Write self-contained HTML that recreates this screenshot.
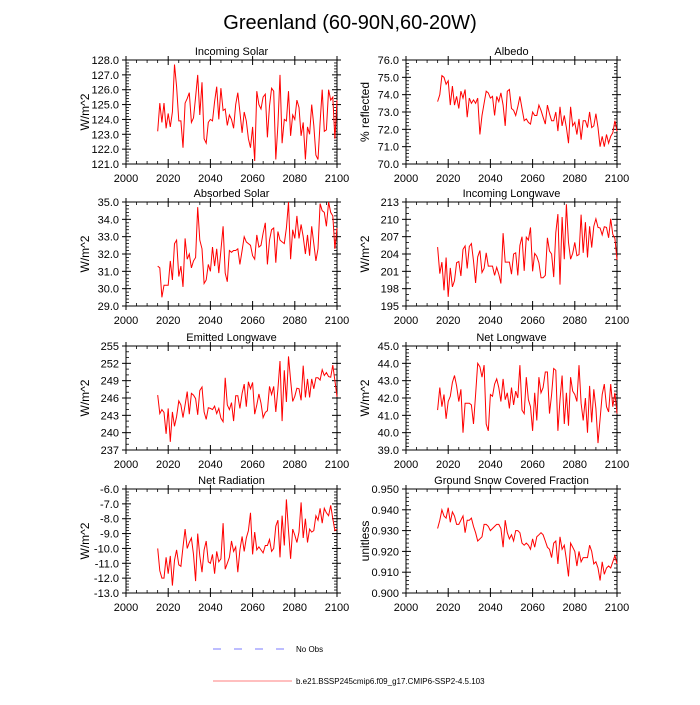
<!DOCTYPE html>
<html><head><meta charset="utf-8"><style>
body{margin:0;background:#fff;}
svg text{font-family:"Liberation Sans",sans-serif;fill:#000;}
</style></head><body>
<svg id="chart" width="700" height="700" xmlns="http://www.w3.org/2000/svg">
<text x="350" y="29" font-size="20" text-anchor="middle">Greenland (60-90N,60-20W)</text>
<line x1="213" y1="649" x2="288" y2="649" stroke="#7b7bff" stroke-width="1" stroke-dasharray="8,13"/>
<text x="296" y="652" font-size="8">No Obs</text>
<line x1="213" y1="681" x2="292" y2="681" stroke="#ff7f7f" stroke-width="1"/>
<text x="296" y="684" font-size="8">b.e21.BSSP245cmip6.f09_g17.CMIP6-SSP2-4.5.103</text>
<g id="panels"></g>
</svg>
<script>
const years0 = 2015;
const incomingSolar = [123.2,125.1,123.8,125.1,123.4,124.4,123.5,124.5,127.7,126.2,
123.9,123.9,122.1,125.1,125.4,125.8,123.8,124.1,125.5,127.0,
124.3,126.5,122.7,122.4,123.8,124.0,123.9,125.2,126.2,124.0,
126.1,124.6,124.7,123.6,124.3,124.0,123.4,125.0,125.8,124.5,
123.1,124.5,123.9,122.7,122.1,123.5,121.2,125.9,125.0,124.7,
125.5,125.7,122.8,124.9,126.1,125.9,121.3,123.6,127.0,122.4,
124.0,123.9,125.9,122.9,124.3,124.0,125.3,124.8,122.9,123.8,
121.3,123.5,123.0,125.0,123.6,121.6,121.3,123.8,126.0,123.2,
123.3,126.0,125.3,125.5,122.7,125.3];
const albedo = [73.6,74.0,75.1,75.0,74.6,74.8,73.4,74.5,73.4,73.9,
73.2,74.2,73.8,74.3,72.7,73.8,73.5,73.7,73.5,73.8,
71.7,72.8,73.5,74.2,74.1,73.8,73.9,72.8,73.9,73.6,
74.1,73.4,72.2,74.2,74.3,73.2,73.1,72.8,73.3,73.9,
73.2,72.5,72.6,72.4,72.3,73.0,72.8,72.8,73.4,73.1,
72.7,72.3,73.4,72.9,72.5,72.5,73.0,71.9,73.3,72.2,
72.8,72.1,71.2,73.3,72.2,72.4,71.7,72.6,71.4,72.5,
72.5,72.1,73.0,72.1,72.2,72.9,72.1,71.0,71.6,71.0,
71.7,71.2,71.6,71.8,72.5,71.9];
const absorbedSolar = [31.3,31.2,29.5,30.2,30.2,30.2,31.6,30.5,32.6,32.8,
30.7,31.3,30.1,32.9,31.7,32.0,31.2,31.6,31.8,34.7,
32.8,32.3,30.3,30.5,31.4,31.0,32.4,31.3,32.3,30.9,
32.2,33.6,30.9,30.4,32.2,32.1,32.2,32.2,32.3,31.4,
32.2,33.0,32.7,32.6,32.5,31.9,31.7,33.1,32.4,32.5,
33.2,33.8,31.4,32.8,33.4,33.5,31.5,33.3,32.8,32.7,
32.6,33.5,35.0,31.7,33.4,32.9,34.2,32.9,33.7,33.0,
32.0,33.1,31.9,33.6,32.6,31.6,32.3,34.9,34.5,34.4,
33.6,35.0,34.4,34.2,32.3,33.5];
const incomingLW = [205.2,200.6,202.6,197.7,203.4,196.6,201.6,198.3,199.4,202.5,
202.7,200.2,204.8,205.4,201.5,205.3,205.8,202.8,199.0,203.5,
204.6,200.8,201.5,204.2,201.9,201.9,201.9,200.3,201.7,200.5,
198.9,207.6,202.6,202.6,202.6,200.5,204.0,204.2,200.3,205.5,
207.0,201.1,206.9,206.4,208.6,201.0,204.1,203.6,202.5,199.9,
199.9,200.3,206.8,204.5,204.0,200.0,207.7,210.9,198.7,210.4,
203.1,212.6,206.0,203.1,204.1,206.0,203.7,203.9,210.8,204.2,
209.5,203.4,208.8,205.1,208.8,210.1,208.6,208.5,207.3,208.7,
208.6,206.8,210.1,207.4,206.7,203.0];
const emittedLW = [246.5,243.3,244.0,243.5,239.8,244.2,238.4,243.6,241.1,242.8,
245.5,244.8,242.6,244.8,247.1,243.2,246.8,246.5,245.9,243.1,
247.3,247.9,243.6,242.3,244.3,244.2,244.0,244.6,243.3,244.2,
242.5,241.9,249.5,244.8,244.0,245.2,242.0,246.4,246.4,244.2,
246.8,248.4,244.5,248.8,247.6,248.7,243.2,244.8,246.7,245.1,
242.6,243.5,243.8,248.0,246.6,248.0,243.6,247.5,252.4,242.0,
250.8,245.3,253.2,249.1,245.4,246.3,247.7,247.6,245.6,251.6,
246.1,249.3,246.1,249.3,247.6,249.5,249.5,249.1,250.9,249.9,
250.4,249.7,249.6,251.7,249.0,246.2];
const netLW = [41.3,42.6,41.5,42.2,40.8,41.8,42.1,42.9,43.3,42.7,
41.8,42.5,40.0,41.7,41.7,41.7,41.6,40.5,42.2,44.0,
43.8,43.2,43.9,40.5,40.1,42.2,42.1,42.8,43.1,42.6,
41.8,43.1,41.9,42.3,41.4,42.6,41.6,42.4,42.0,43.9,
41.3,41.1,43.2,41.9,41.5,40.1,42.3,40.7,43.2,42.3,
42.6,43.5,43.5,41.1,42.2,43.7,43.6,40.1,41.9,43.3,
40.5,42.3,40.4,43.2,42.4,42.2,41.8,43.9,41.7,40.7,
42.0,40.0,42.7,40.6,42.5,41.4,39.4,40.8,42.2,42.8,
41.5,41.2,42.8,41.5,42.3,41.1];
const netRad = [-10.0,-11.5,-12.0,-12.0,-10.6,-11.7,-10.5,-12.5,-10.8,-10.1,
-11.1,-11.2,-9.9,-8.7,-10.0,-9.6,-9.3,-10.4,-12.2,-9.0,
-10.5,-11.6,-10.1,-9.5,-10.9,-11.0,-10.4,-11.7,-10.2,-10.9,
-10.7,-8.3,-11.4,-11.0,-10.6,-9.5,-10.2,-9.9,-11.6,-10.1,
-9.2,-10.2,-9.3,-8.8,-7.6,-10.4,-8.9,-10.1,-9.9,-10.1,
-10.3,-9.8,-9.8,-9.4,-10.2,-10.0,-8.5,-8.1,-10.6,-7.8,
-9.8,-6.7,-8.8,-10.7,-8.7,-9.1,-9.6,-8.9,-6.9,-9.3,
-8.0,-9.6,-8.7,-8.9,-8.8,-7.8,-8.1,-7.3,-8.3,-7.3,
-7.6,-7.8,-7.1,-8.0,-8.8,-8.7];
const snowFrac = [0.931,0.935,0.940,0.937,0.936,0.941,0.934,0.939,0.937,0.933,
0.933,0.935,0.937,0.929,0.935,0.935,0.936,0.932,0.929,0.925,
0.926,0.927,0.933,0.933,0.932,0.930,0.931,0.932,0.933,0.933,
0.931,0.922,0.935,0.929,0.926,0.928,0.925,0.930,0.930,0.929,
0.924,0.923,0.924,0.923,0.921,0.926,0.922,0.927,0.928,0.929,
0.928,0.925,0.922,0.921,0.917,0.924,0.925,0.914,0.927,0.921,
0.923,0.916,0.908,0.924,0.922,0.920,0.913,0.920,0.915,0.917,
0.917,0.917,0.923,0.920,0.914,0.915,0.912,0.906,0.915,0.909,
0.912,0.913,0.912,0.915,0.918,0.914];
const xTicks = [2000,2020,2040,2060,2080,2100];
const panelTitles = ["Incoming Solar","Albedo","Absorbed Solar","Incoming Longwave","Emitted Longwave","Net Longwave","Net Radiation","Ground Snow Covered Fraction"];
const yTitles = ["W/m^2","% reflected","W/m^2","W/m^2","W/m^2","W/m^2","W/m^2","unitless"];
const yMins = [121,70,29,195,237,39,-13,0.90];
const yMaxs = [128,76,35,213,255,45,-6,0.95];
const ySteps = [1,1,1,3,3,1,1,0.01];
const yDecimals = [1,1,1,0,0,1,1,3];
const series = [incomingSolar,albedo,absorbedSolar,incomingLW,emittedLW,netLW,netRad,snowFrac];

const NS="http://www.w3.org/2000/svg";
const root=document.getElementById('panels');
function mk(tag,attrs,parent){const e=document.createElementNS(NS,tag);for(const k in attrs)e.setAttribute(k,attrs[k]);parent.appendChild(e);return e;}
const colX=[126,406], W=211, rowY=[60,202,346,489], H=104;
series.forEach((data,i)=>{
  const x0=colX[i%2], y0=rowY[Math.floor(i/2)];
  const g=mk('g',{},root);
  
  
  const xs=v=>x0+(v-2000)/100*W;
  const ys=v=>y0+H-(v-yMins[i])/(yMaxs[i]-yMins[i])*H;
  // minor y ticks
  const nMinor = ySteps[i]===3?3:5;
  const nMaj=Math.round((yMaxs[i]-yMins[i])/ySteps[i]);
  for(let k=0;k<nMaj*nMinor;k++){
    const yy=y0+H-k/(nMaj*nMinor)*H;
    if(k%nMinor===0) continue;
    mk('line',{x1:x0,x2:x0+3,y1:yy,y2:yy,stroke:'#000','stroke-width':0.8},g);
    mk('line',{x1:x0+W,x2:x0+W-3,y1:yy,y2:yy,stroke:'#000','stroke-width':0.8},g);
  }
  for(let k=0;k<=nMaj;k++){
    const v=yMins[i]+k*ySteps[i], yy=ys(v);
    mk('line',{x1:x0-4,x2:x0+5,y1:yy,y2:yy,stroke:'#000','stroke-width':1},g);
    mk('line',{x1:x0+W+4,x2:x0+W-5,y1:yy,y2:yy,stroke:'#000','stroke-width':1},g);
    const t=mk('text',{x:x0-7,y:yy+4,'font-size':11,'text-anchor':'end'},g);
    t.textContent=v.toFixed(yDecimals[i]);
    
    
  }
  for(let yr=2000;yr<=2100;yr+=5){
    const xx=xs(yr), maj=yr%20===0;
    mk('line',{x1:xx,x2:xx,y1:y0+H,y2:y0+H-(maj?5:3),stroke:'#000','stroke-width':maj?1:0.8},g);
    mk('line',{x1:xx,x2:xx,y1:y0,y2:y0+(maj?5:3),stroke:'#000','stroke-width':maj?1:0.8},g);
    if(maj){mk('line',{x1:xx,x2:xx,y1:y0+H,y2:y0+H+4,stroke:'#000'},g);mk('line',{x1:xx,x2:xx,y1:y0,y2:y0-4,stroke:'#000'},g);}
  }
  xTicks.forEach(v=>{
    const t=mk('text',{x:xs(v),y:y0+H+18,'font-size':11,'text-anchor':'middle'},g);
    t.textContent=v;
    
    
  });
  mk('rect',{x:x0,y:y0,width:W,height:H,fill:'none',stroke:'#000','stroke-width':1},g);
  const pts=data.map((v,j)=>xs(years0+j).toFixed(1)+','+ys(v).toFixed(1)).join(' ');
  const pl=mk('polyline',{points:pts,fill:'none',stroke:'#ff0000','stroke-width':1},g);
  
  
  const tt=mk('text',{x:x0+W/2,y:y0-5,'font-size':11,'text-anchor':'middle'},g);
  tt.textContent=panelTitles[i];
  
  
  const yt=mk('text',{x:0,y:0,'font-size':12,'text-anchor':'middle',transform:`translate(${x0-37},${y0+H/2}) rotate(-90)`},g);
  yt.textContent=yTitles[i];
  
  
});
</script>
</body></html>
